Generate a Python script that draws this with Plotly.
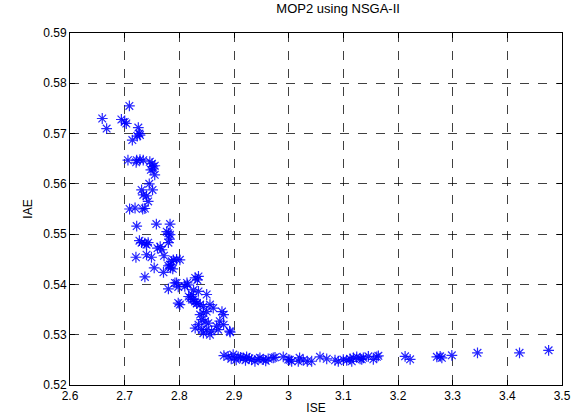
import plotly.graph_objects as go

# ISE (x) and IAE (y) values of the NSGA-II Pareto set
ise = [
    2.7086, 2.659, 2.667, 2.694, 2.700, 2.703,
    2.725, 2.727, 2.723, 2.728, 2.714,
    2.706, 2.722, 2.728, 2.734, 2.721,
    2.746, 2.750, 2.7515, 2.748, 2.755, 2.752,
    2.755, 2.745,
    2.731, 2.751, 2.734, 2.740, 2.743,
    2.709, 2.719, 2.733, 2.737,
    2.722, 2.758, 2.783,
    2.777, 2.780, 2.783, 2.782, 2.780,
    2.727, 2.731, 2.737, 2.743, 2.740,
    2.760, 2.765, 2.768,
    2.7206, 2.740, 2.749, 2.772,
    2.789, 2.795, 2.801, 2.786, 2.783, 2.780, 2.784, 2.788,
    2.754, 2.771, 2.737,
    2.792, 2.798, 2.815, 2.829, 2.833, 2.780, 2.835,
    2.817, 2.823, 2.829, 2.832, 2.801, 2.798,
    2.795, 2.814, 2.810,
    2.826, 2.835, 2.823, 2.820, 2.850,
    2.826, 2.832, 2.838, 2.844, 2.856, 2.862, 2.878, 2.881,
    2.838, 2.844, 2.850, 2.841, 2.847, 2.853, 2.835, 2.829, 2.841, 2.850,
    2.859, 2.856, 2.844, 2.868, 2.874, 2.892, 2.871,
    2.881, 2.893,
    2.8815, 2.8894, 2.8985, 2.9077, 2.9168, 2.9231, 2.9322, 2.9383, 2.9474,
    2.9535, 2.9626, 2.9718, 2.9901, 2.9993, 3.0055, 3.0176, 3.0267, 3.0341,
    3.0421, 3.0573, 3.0696, 3.0848, 3.0908,
    2.895, 2.904, 2.912, 2.921, 2.928, 2.944, 2.958, 2.975, 3.002, 3.020,
    3.1000, 3.1062, 3.1123, 3.1154, 3.1183, 3.1245, 3.1306, 3.1337, 3.1366,
    3.1458, 3.1549, 3.1612, 3.1641,
    3.2130, 3.2222, 3.2711, 3.2771, 3.2802, 3.2985, 3.3454, 3.4223, 3.4755,
]
iae = [
    0.5755, 0.5730, 0.5710, 0.5728, 0.5723, 0.5720,
    0.5712, 0.5700, 0.5695, 0.5697, 0.5687,
    0.5647, 0.5647, 0.5648, 0.5647, 0.5643,
    0.5644, 0.5640, 0.5634, 0.5628, 0.5636, 0.5630,
    0.5618, 0.5600,
    0.5588, 0.5588, 0.5578, 0.5576, 0.5565,
    0.5550, 0.5552, 0.5550, 0.5551,
    0.5516, 0.5520, 0.5520,
    0.5505, 0.5502, 0.5499, 0.5490, 0.5483,
    0.5487, 0.5483, 0.5482, 0.5483, 0.5479,
    0.5472, 0.5475, 0.5469,
    0.5454, 0.5459, 0.5454, 0.5457,
    0.5449, 0.5450, 0.5449, 0.5446, 0.5439, 0.5437, 0.5433, 0.5431,
    0.5433, 0.5424, 0.5415,
    0.5403, 0.5395, 0.5399, 0.5413, 0.5409, 0.5391, 0.5416,
    0.5376, 0.5370, 0.5366, 0.5362, 0.5360, 0.5363,
    0.5403, 0.5403, 0.5396,
    0.5389, 0.5386, 0.5380, 0.5373, 0.5380,
    0.5370, 0.5363, 0.5360, 0.5356, 0.5360, 0.5353, 0.5346, 0.5340,
    0.5340, 0.5343, 0.5346, 0.5330, 0.5327, 0.5323, 0.5320, 0.5313, 0.5310, 0.5310,
    0.5307, 0.5300, 0.5303, 0.5317, 0.5327, 0.5307, 0.5310,
    0.5320, 0.5305,
    0.52585, 0.52571, 0.52605, 0.52560, 0.52540, 0.52560, 0.52506, 0.52472, 0.52540,
    0.52506, 0.52520, 0.52540, 0.52560, 0.52506, 0.52472, 0.52472, 0.52492, 0.52472,
    0.52472, 0.52560, 0.52520, 0.52492, 0.52472,
    0.5252, 0.5250, 0.5255, 0.5249, 0.5253, 0.5251, 0.5248, 0.5255, 0.5250, 0.5254,
    0.52506, 0.5249, 0.5252, 0.5247, 0.5254, 0.5256, 0.5252, 0.5251, 0.5254,
    0.5257, 0.5251, 0.5256, 0.5258,
    0.5257, 0.5251, 0.5256, 0.5257, 0.5254, 0.5259, 0.5264, 0.5264, 0.5269,
]

title_text = "MOP2 using NSGA-II"
x_title = "ISE"
y_title = "IAE"

fig = go.Figure()
fig.add_trace(go.Scatter(
    x=ise, y=iae, mode="markers",
    marker=dict(symbol="asterisk-open", size=9, color="rgba(0,0,255,0.85)",
                line=dict(color="rgba(0,0,255,0.85)", width=1.2)),
    showlegend=False,
))

fam = "Liberation Sans, Arial, sans-serif"
font = dict(family=fam, size=12, color="black")
axis_common = dict(
    showline=True, linecolor="black", linewidth=1, mirror="ticks",
    ticks="inside", ticklen=5, tickcolor="black",
    showgrid=True, gridcolor="rgba(0,0,0,0.75)", gridwidth=1, griddash="dash",
    zeroline=False, tickfont=font, automargin=False,
)
fig.update_layout(
    width=579, height=420,
    margin=dict(l=70, r=17, t=33, b=35),
    paper_bgcolor="white", plot_bgcolor="white",
    font=font,
    title=dict(text=title_text, x=0.545, xanchor="center", y=0.99, yanchor="top",
               xref="paper", font=dict(size=13, family=fam, color="black")),
    xaxis=dict(range=[2.6, 3.5], dtick=0.1, tick0=2.6,
               title=dict(text=x_title, standoff=1, font=font), **axis_common),
    yaxis=dict(range=[0.52, 0.59], dtick=0.01, tick0=0.52, tickformat=".2f",
               title=dict(text=y_title, standoff=8, font=font), **axis_common),
)
fig.write_html("out.html")
